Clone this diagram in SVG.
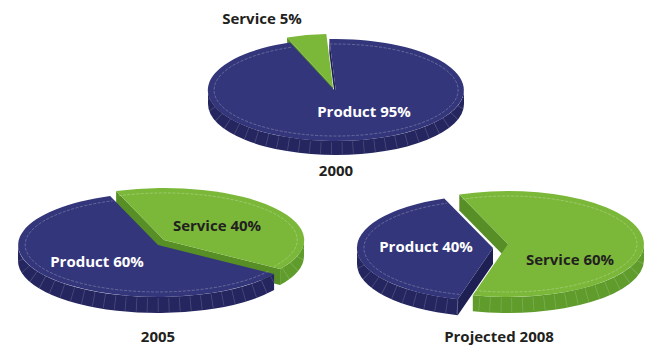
<svg xmlns="http://www.w3.org/2000/svg" width="654" height="349" viewBox="0 0 654 349">
<style>
.pt{fill:#33367a}
.ps{fill:#25265f}
.pc{fill:#1e1f52}
.st{fill:#7bb83a}
.ss{fill:#5f9c2c}
.sc{fill:#578f26}
.rim{fill:none;stroke:#ffffff;stroke-opacity:0.35;stroke-width:0.7;stroke-dasharray:3 1.5}
.tick{fill:none;stroke:#ffffff;stroke-opacity:0.18;stroke-dasharray:0.8 10}
.lbl{font-family:"Open Sans","Liberation Sans",sans-serif;font-weight:bold;font-size:15px;text-anchor:middle}
.dk{fill:#231f20}
.wt{fill:#ffffff}
</style>
<rect width="654" height="349" fill="#ffffff"/>

<g id="pie2000">
  <g id="service2000">
    <path class="sc" d="M333,87 L287.1,37.4 L287.1,51.4 L333,101 Z"/>
    <path class="st" d="M333,87 L287.1,37.4 A128,51 0 0 1 326.3,34.1 Z"/>
  </g>
  <g id="product2000">
    <path class="pc" d="M336,92 L329.3,39.1 L329.3,53.1 L336,106 Z"/>
    <path class="ps" d="M464,90 A128,51 0 0 1 208,90 L208,104 A128,51 0 0 0 464,104 Z"/>
    <path class="tick" stroke-width="12" d="M464,97 A128,51 0 0 1 208,97"/>
    <path class="pt" d="M336,92 L329.3,39.1 A128,51 0 1 1 290.1,42.4 Z"/>
    <path class="rim" d="M329.6,44.1 A122,46 0 1 1 292.3,47.1"/>
  </g>
  <text class="lbl dk" x="262" y="24">Service 5%</text>
  <text class="lbl wt" x="364" y="117">Product 95%</text>
  <text class="lbl dk" x="336" y="176">2000</text>
</g>

<g id="pie2005">
  <g id="service2005">
    <path class="ss" d="M304,240 A140,52 0 0 1 280.1,269.1 L280.1,285.1 A140,52 0 0 0 304,256 Z"/>
    <path class="tick" stroke-width="14" d="M304,248 A140,52 0 0 1 280.1,277.1"/>
    <path class="sc" d="M164,240 L116.1,191.1 L116.1,207.1 L164,256 Z"/>
    <path class="sc" d="M164,240 L280.1,269.1 L280.1,285.1 L164,256 Z"/>
    <path class="st" d="M164,240 L116.1,191.1 A140,52 0 0 1 280.1,269.1 Z"/>
    <path class="rim" d="M118.5,195.8 A133,47 0 0 1 274.3,266.3"/>
  </g>
  <g id="product2005">
    <path class="ps" d="M274.1,274.1 A140,52 0 0 1 18,245 L18,261 A140,52 0 0 0 274.1,290.1 Z"/>
    <path class="tick" stroke-width="14" d="M274.1,282.1 A140,52 0 0 1 18,253"/>
    <path class="pt" d="M158,245 L274.1,274.1 A140,52 0 1 1 110.1,196.1 Z"/>
    <path class="rim" d="M268.3,271.3 A133,47 0 1 1 112.5,200.8"/>
  </g>
  <text class="lbl dk" x="217" y="231">Service 40%</text>
  <text class="lbl wt" x="97" y="267">Product 60%</text>
  <text class="lbl dk" x="158" y="342">2005</text>
</g>

<g id="pie2008">
  <g id="service2008">
    <path class="ss" d="M644,244 A136,53 0 0 1 472.8,295.2 L472.8,311.2 A136,53 0 0 0 644,260 Z"/>
    <path class="tick" stroke-width="14" d="M644,252 A136,53 0 0 1 472.8,303.2"/>
    <path class="sc" d="M508,244 L459.3,194.5 L459.3,210.5 L508,260 Z"/>
    <path class="st" d="M508,244 L459.3,194.5 A136,53 0 1 1 472.8,295.2 Z"/>
    <path class="rim" d="M461.8,199.2 A129,48 0 1 1 474.6,290.4"/>
  </g>
  <g id="product2008">
    <path class="pc" d="M493,248 L457.8,299.2 L457.8,315.2 L493,264 Z"/>
    <path class="ps" d="M457.8,299.2 A136,53 0 0 1 357,248 L357,264 A136,53 0 0 0 457.8,315.2 Z"/>
    <path class="tick" stroke-width="14" d="M457.8,307.2 A136,53 0 0 1 357,256"/>
    <path class="pt" d="M493,248 L457.8,299.2 A136,53 0 0 1 444.3,198.5 Z"/>
    <path class="rim" d="M459.6,294.4 A129,48 0 0 1 446.8,203.2"/>
  </g>
  <text class="lbl wt" x="426" y="252">Product 40%</text>
  <text class="lbl dk" x="570" y="265">Service 60%</text>
  <text class="lbl dk" x="499" y="342">Projected 2008</text>
</g>
</svg>
